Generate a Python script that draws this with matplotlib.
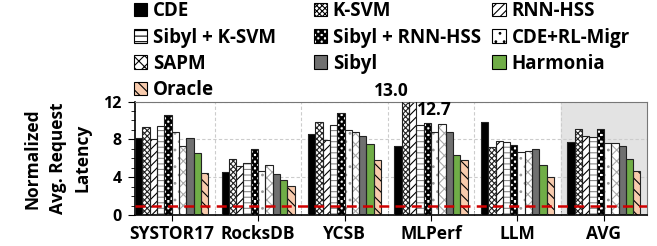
import numpy as np
import matplotlib
matplotlib.use("Agg")
import matplotlib.pyplot as plt
from matplotlib import hatch as mhatch
from matplotlib.path import Path
from matplotlib.ticker import MultipleLocator, FixedLocator

plt.rcParams["font.family"] = ["Open Sans", "DejaVu Sans"]
plt.rcParams["font.weight"] = "bold"
plt.rcParams["hatch.linewidth"] = 0.8


# шахматная штриховка вместо 'O' (крупные круги не используются)
class CheckerHatch(mhatch.HatchPatternBase):
    def __init__(self, hatch, density):
        self.num_rows = int(hatch.count("O") * density)
        self.num_vertices = 5 * ((self.num_rows * self.num_rows + 1) // 2)

    def set_vertices_and_codes(self, vertices, codes):
        n = self.num_rows
        s = 1.0 / n
        sq = np.array([[0, 0], [s, 0], [s, s], [0, s], [0, 0]])
        k = 0
        for i in range(n):
            for j in range(n):
                if (i + j) % 2 == 0:
                    vertices[k:k + 5] = sq + [i * s, j * s]
                    codes[k:k + 5] = [Path.MOVETO, Path.LINETO, Path.LINETO,
                                      Path.LINETO, Path.CLOSEPOLY]
                    k += 5


mhatch._hatch_types = [t for t in mhatch._hatch_types if t is not mhatch.LargeCircles]
mhatch._hatch_types.append(CheckerHatch)

workloads = ["SYSTOR17", "RocksDB", "YCSB", "MLPerf", "LLM", "AVG"]
policies = ["CDE", "K-SVM", "RNN-HSS", "Sibyl + K-SVM", "Sibyl + RNN-HSS",
            "CDE+RL-Migr", "SAPM", "Sibyl", "Harmonia", "Oracle"]

# значения по workload для каждой политики
cde = [8.2, 4.5, 8.6, 7.3, 9.8, 7.7]
ksvm = [9.3, 5.9, 9.8, 13.0, 7.2, 9.1]
rnn = [8.0, 5.2, 7.9, 12.7, 7.8, 8.4]
sibyl_ksvm = [9.4, 5.5, 9.5, 9.5, 7.7, 8.3]
sibyl_rnn = [10.6, 7.0, 10.8, 9.7, 7.4, 9.1]
cde_rl = [8.8, 4.7, 9.0, 8.8, 6.7, 7.6]
sapm = [7.3, 5.3, 8.8, 9.6, 6.8, 7.6]
sibyl = [8.1, 4.3, 8.4, 8.8, 7.0, 7.3]
harmonia = [6.6, 3.7, 7.5, 6.3, 5.3, 5.9]
oracle = [4.4, 3.1, 5.8, 5.8, 4.0, 4.7]

series = [cde, ksvm, rnn, sibyl_ksvm, sibyl_rnn, cde_rl, sapm, sibyl, harmonia, oracle]

# стиль: (facecolor, hatch, hatch color)
styles = [
    ("black", None, "black"),
    ("white", "xxxxxx", "#222222"),
    ("white", "////", "black"),
    ("white", "---", "#888888"),
    ("white", "OOOOO", "black"),
    ("white", "..", "#999999"),
    ("white", "xxx", "#aaaaaa"),
    ("#707070", None, "#707070"),
    ("#70ad47", None, "#70ad47"),
    ("#f8cbad", "\\\\\\", "black"),
]

fig = plt.figure(figsize=(6.57, 2.46), dpi=100)
ax = fig.add_axes([0.206, 0.126, 0.779, 0.461])

x = np.arange(len(workloads))
n = len(series)
width = 0.845 / n

ax.axvspan(4.5, 5.5, color="#e3e3e3", zorder=0)

for i, (vals, (fc, hatch, hc)) in enumerate(zip(series, styles)):
    pos = x + (i - (n - 1) / 2) * width
    ax.bar(pos, vals, width, color=fc, hatch=hatch, edgecolor=hc,
           linewidth=0, zorder=2)
    # чёрная обводка поверх
    ax.bar(pos, vals, width, fill=False, edgecolor="#222222", linewidth=0.8, zorder=3)

ax.axhline(1, color="#d00000", linestyle=(0, (4, 2.5)), linewidth=1.8, zorder=4)

ax.set_xlim(-0.42, 5.5)
ax.set_ylim(0, 12)
ax.set_yticks([0, 4, 8, 12])
ax.yaxis.set_minor_locator(MultipleLocator(1))
ax.set_xticks(x)
ax.set_xticklabels(workloads, fontsize=12.5, fontweight="bold")
ax.xaxis.set_minor_locator(FixedLocator([0.5, 1.5, 2.5, 3.5, 4.5]))
ax.tick_params(axis="x", which="major", length=4, pad=3)
ax.tick_params(axis="x", which="minor", length=3, direction="in")
ax.tick_params(axis="y", which="major", length=5, labelsize=11.5, pad=5)
ax.tick_params(axis="y", which="minor", length=3)
for lbl in ax.get_yticklabels():
    lbl.set_fontweight("bold")

ax.grid(axis="y", which="major", linestyle=(0, (3, 2)), color="#cccccc", linewidth=0.8, zorder=1)
for b in [0.5, 1.5, 2.5, 3.5, 4.5]:
    ax.axvline(b, linestyle=(0, (3, 2)), color="#cccccc", linewidth=0.8, zorder=1)
ax.set_axisbelow(True)

for s in ["top", "right"]:
    ax.spines[s].set_color("#777777")
ax.spines["left"].set_linewidth(1.2)
ax.spines["bottom"].set_linewidth(1.2)

ax.set_ylabel("Normalized\nAvg. Request\nLatency", fontsize=12.5, fontweight="bold",
              linespacing=1.5, labelpad=8)

# подписи обрезанных столбцов
k_pos = 3 + (1 - (n - 1) / 2) * width
r_pos = 3 + (2 - (n - 1) / 2) * width
ax.text(k_pos + width / 2, 12.15, f"{ksvm[3]:.1f}", ha="right", va="bottom",
        fontsize=12.5, fontweight="bold", clip_on=False)
ax.text(r_pos + width / 2 + 0.01, 11.1, f"{rnn[3]:.1f}", ha="left", va="center",
        fontsize=12.5, fontweight="bold")

handles = [plt.Rectangle((0, 0), 1, 1, facecolor=fc, hatch=h, edgecolor="black",
                         linewidth=0.8) for fc, h, hc in styles]
# три отдельных столбца легенды, чтобы выставить их позиции
col_x = [0.192, 0.466, 0.738]
for c in range(3):
    idx = list(range(c, n, 3))
    leg = fig.legend([handles[k] for k in idx], [policies[k] for k in idx],
                     loc="upper left", bbox_to_anchor=(col_x[c], 1.025),
                     frameon=False, fontsize=13.5, handlelength=0.72, handleheight=0.72,
                     handletextpad=0.3, labelspacing=0.33, borderaxespad=0)
    for t in leg.get_texts():
        t.set_fontweight("bold")

fig.savefig("out.png", dpi=100)
